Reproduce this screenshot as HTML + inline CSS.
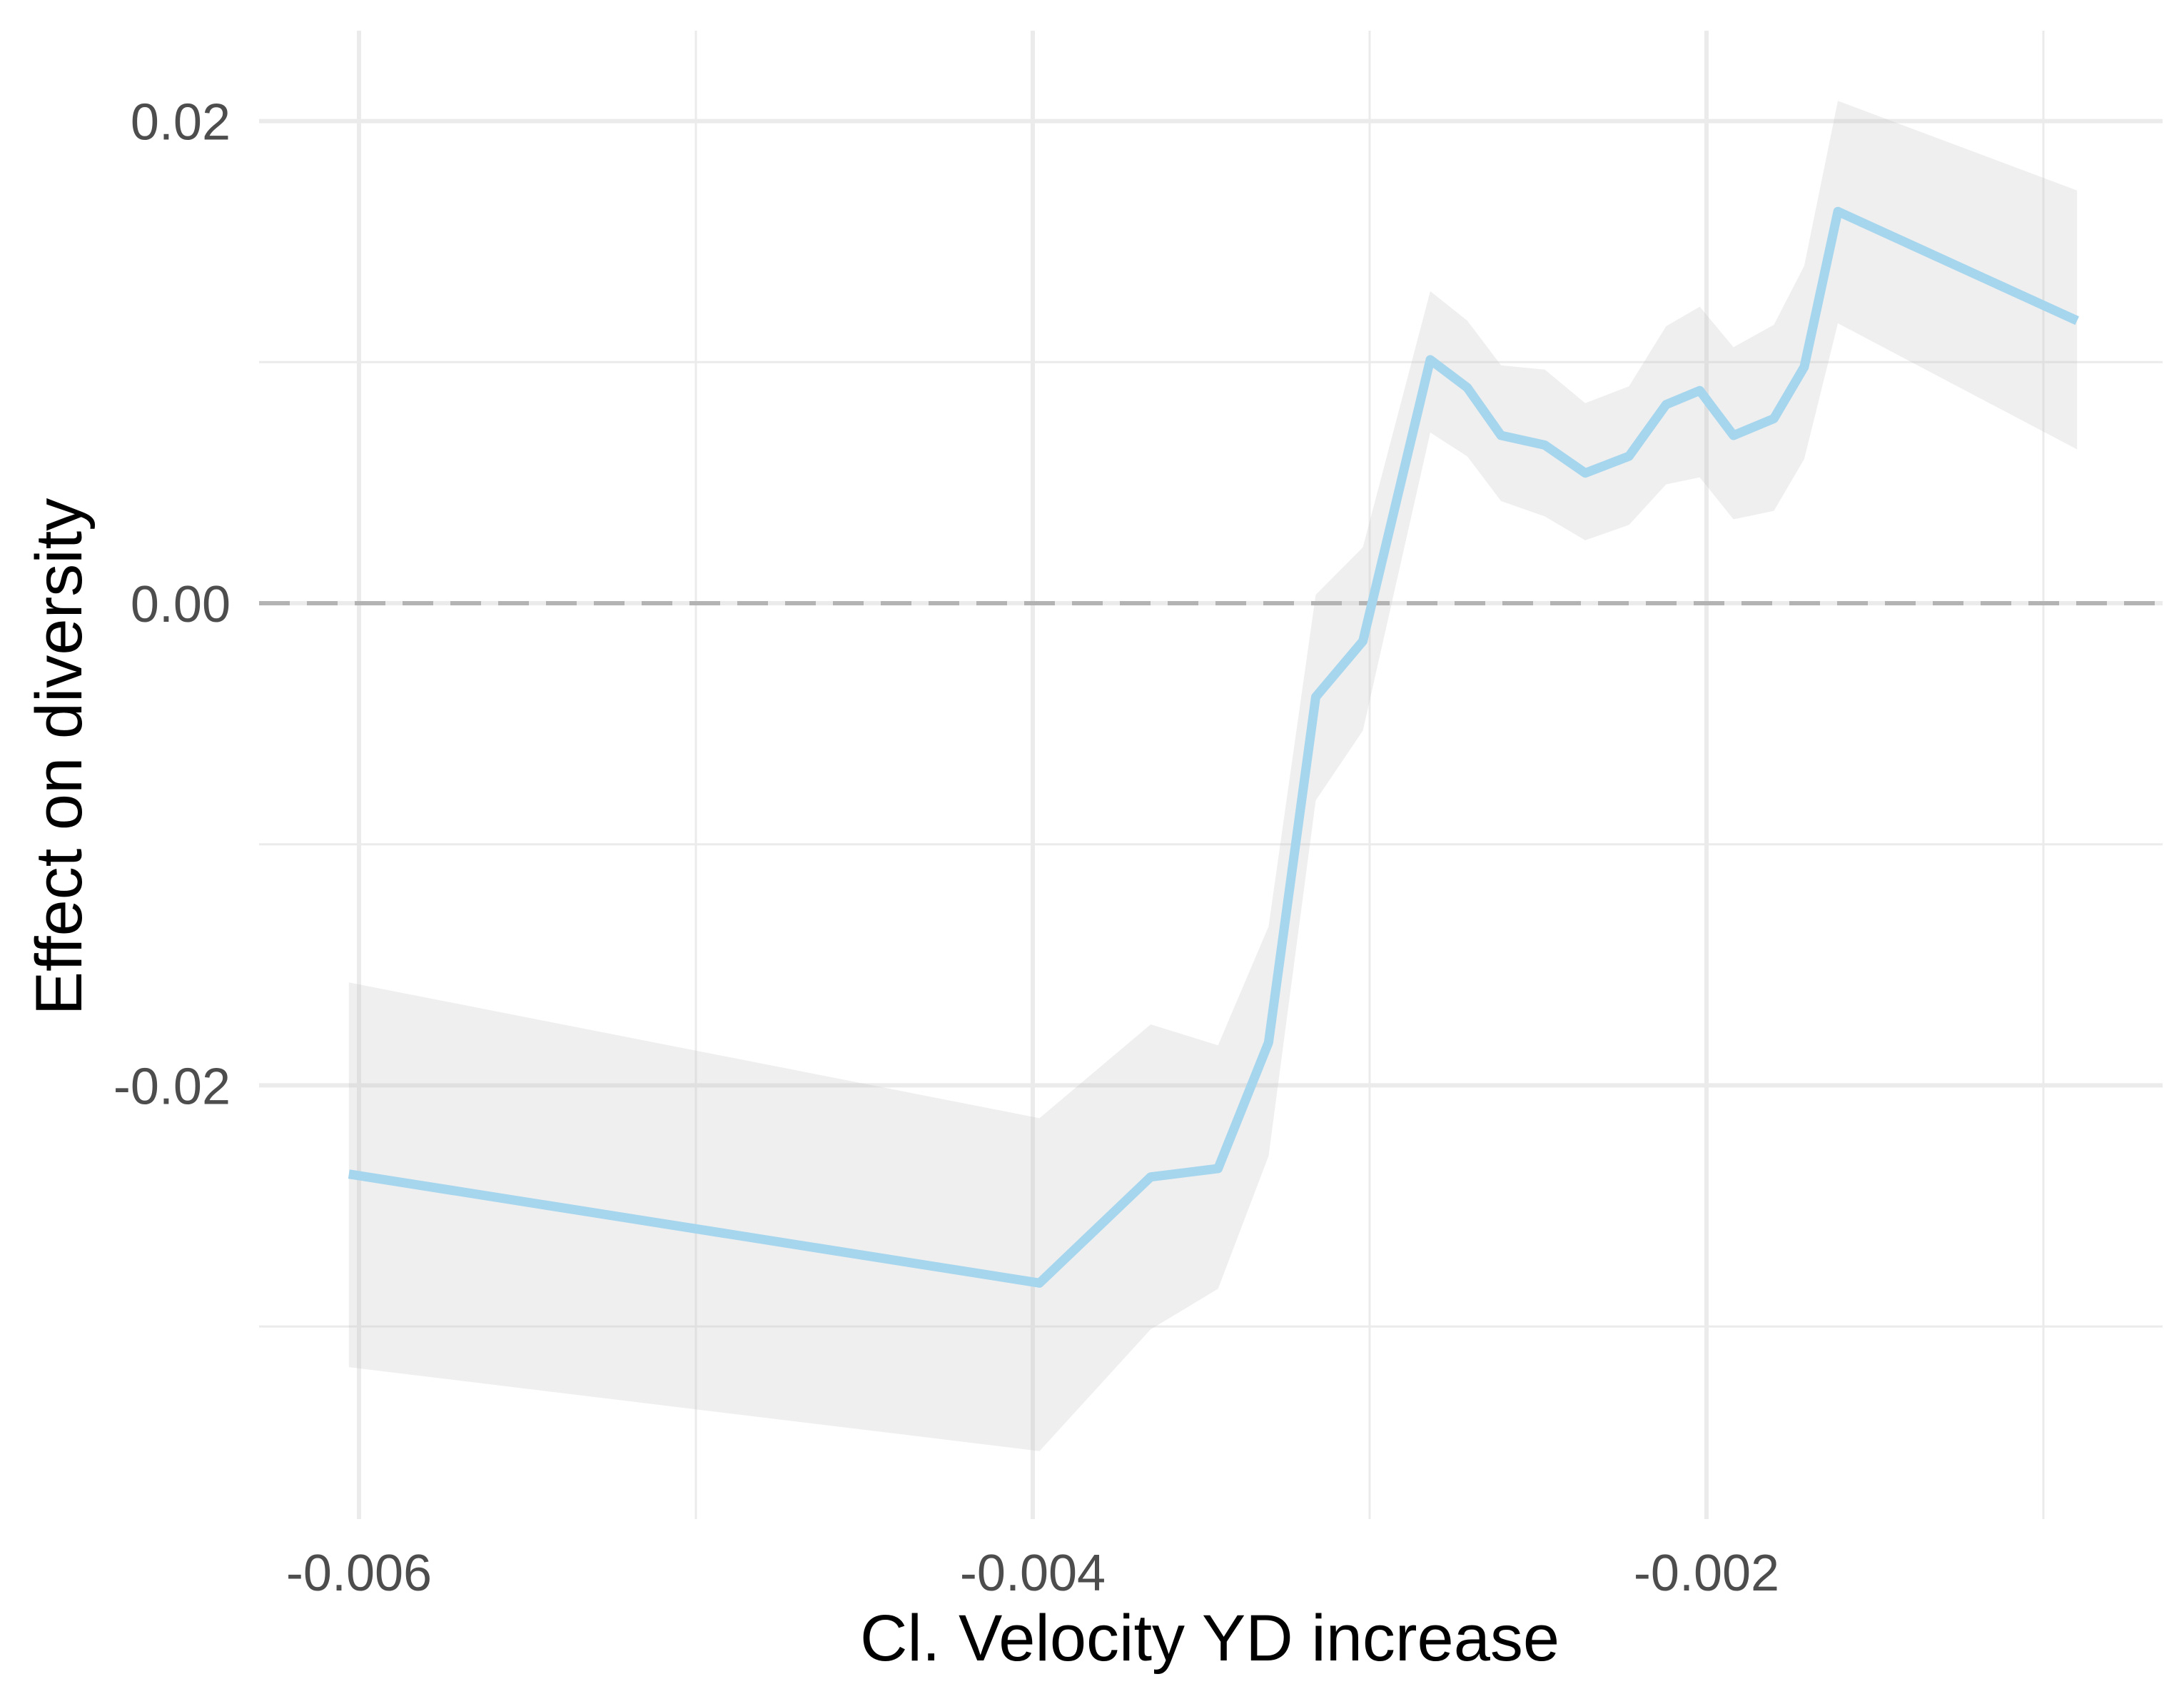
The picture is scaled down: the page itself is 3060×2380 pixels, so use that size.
<!DOCTYPE html>
<html><head><meta charset="utf-8"><style>
html,body{margin:0;padding:0;background:#fff}
svg{display:block}
</style></head><body>
<svg id="chart" width="3060" height="2380" viewBox="0 0 3060 2380" xmlns="http://www.w3.org/2000/svg" font-family="'Liberation Sans', sans-serif">
<g id="grid"></g>
<g id="band"></g>
<g id="zero"></g>
<g id="line"></g>
<g id="xticks"></g>
<g id="yticks"></g>
<text x="1695" y="2326" text-anchor="middle" font-size="92" fill="#000">Cl. Velocity YD increase</text>
<text transform="translate(114,1060) rotate(-90)" text-anchor="middle" font-size="92" fill="#000">Effect on diversity</text>
</svg>
<script>
const xVals=[-0.00603,-0.00398,-0.00365,-0.00345,-0.0033,-0.00316,-0.00302,-0.00282,-0.00271,-0.00261,-0.00248,-0.00236,-0.00223,-0.00212,-0.00202,-0.00192,-0.0018,-0.00171,-0.00161,-0.0009];
const yFit=[-0.02368,-0.0282,-0.0238,-0.02345,-0.01822,-0.00389,-0.00157,0.0101,0.00894,0.00696,0.00656,0.0054,0.0061,0.00824,0.00882,0.00696,0.00766,0.0098,0.01625,0.01172];
const yUpper=[-0.01573,-0.02136,-0.01747,-0.01834,-0.01341,0.00035,0.00232,0.01294,0.01172,0.00987,0.00969,0.0083,0.009,0.01149,0.0123,0.01062,0.01155,0.01399,0.02084,0.01712];
const yLower=[-0.03169,-0.03517,-0.03012,-0.02844,-0.02293,-0.00818,-0.00528,0.00708,0.00609,0.00424,0.0036,0.00261,0.00325,0.00493,0.00522,0.00348,0.00383,0.00598,0.01161,0.00638];
const xMajor=[-0.006,-0.004,-0.002];
const xMinor=[-0.005,-0.003,-0.001];
const xLabels=["-0.006","-0.004","-0.002"];
const yMajor=[0.02,0,-0.02];
const yMinor=[0.01,-0.01,-0.03];
const yLabels=["0.02","0.00","-0.02"];
const NS="http://www.w3.org/2000/svg";
const X0=363,X1=3030,Y0=43,Y1=2128;
function sx(v){return 1447+(v+0.004)*472000;}
function sy(v){return 845-v*33770;}
function mk(tag,attrs,parent){const e=document.createElementNS(NS,tag);for(const k in attrs)e.setAttribute(k,attrs[k]);parent.appendChild(e);return e;}
const grid=document.getElementById('grid');
xMinor.forEach(v=>{const l=mk('line',{x1:sx(v),x2:sx(v),y1:Y0,y2:Y1,stroke:'#ebebeb','stroke-width':3},grid);

});
yMinor.forEach(v=>{const l=mk('line',{x1:X0,x2:X1,y1:sy(v),y2:sy(v),stroke:'#ebebeb','stroke-width':3},grid);

});
xMajor.forEach(v=>{const l=mk('line',{x1:sx(v),x2:sx(v),y1:Y0,y2:Y1,stroke:'#ebebeb','stroke-width':6},grid);

});
yMajor.forEach(v=>{const l=mk('line',{x1:X0,x2:X1,y1:sy(v),y2:sy(v),stroke:'#ebebeb','stroke-width':6},grid);

});
let pts=xVals.map((x,i)=>sx(x)+','+sy(yUpper[i]));
for(let i=xVals.length-1;i>=0;i--)pts.push(sx(xVals[i])+','+sy(yLower[i]));
const band=mk('polygon',{points:pts.join(' '),fill:'#bebebe','fill-opacity':0.25},document.getElementById('band'));


const z=mk('line',{x1:X0,x2:X1,y1:sy(0),y2:sy(0),stroke:'#b3b3b3','stroke-width':6,'stroke-dasharray':'43 24'},document.getElementById('zero'));


const pl=mk('polyline',{points:xVals.map((x,i)=>sx(x)+','+sy(yFit[i])).join(' '),fill:'none',stroke:'#a6d5ee','stroke-width':13,'stroke-linejoin':'round'},document.getElementById('line'));


xMajor.forEach((v,i)=>{const t=mk('text',{x:sx(v),y:2228,'text-anchor':'middle','font-size':72,fill:'#4d4d4d'},document.getElementById('xticks'));t.textContent=xLabels[i];

});
yMajor.forEach((v,i)=>{const t=mk('text',{x:323,y:sy(v)+26,'text-anchor':'end','font-size':72,fill:'#4d4d4d'},document.getElementById('yticks'));t.textContent=yLabels[i];

});
</script>
</body></html>
